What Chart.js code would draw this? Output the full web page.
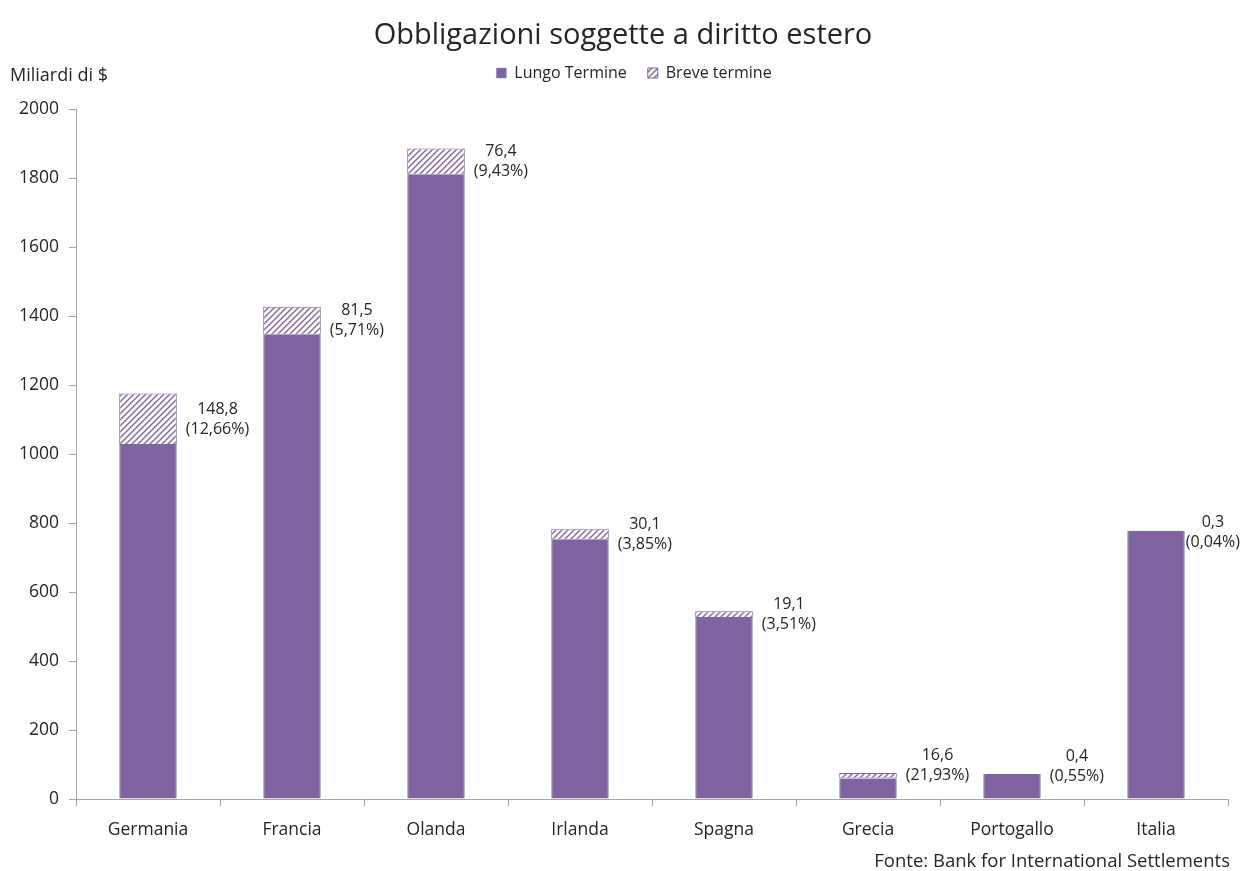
<!DOCTYPE html>
<html lang="it">
<head>
<meta charset="utf-8">
<title>Obbligazioni soggette a diritto estero</title>
<script src="https://cdn.jsdelivr.net/npm/chart.js@4/dist/chart.umd.min.js"></script>
<style>
  html, body { margin: 0; padding: 0; background: #fff; }
  #wrap { width: 1247px; height: 871px; }
</style>
</head>
<body>
<div id="wrap"><canvas id="grafico" width="1247" height="871"></canvas></div>
<script>
// Dati: obbligazioni soggette a diritto estero, miliardi di $
const categorie = ['Germania', 'Francia', 'Olanda', 'Irlanda', 'Spagna', 'Grecia', 'Portogallo', 'Italia'];
const lungoTermine = [1026.6, 1345.8, 1810.0, 751.7, 525.1, 59.1, 72.3, 777.7];
const breveTermine = [148.8, 81.5, 76.4, 30.1, 19.1, 16.6, 0.4, 0.3];
const quotaBreve = [12.66, 5.71, 9.43, 3.85, 3.51, 21.93, 0.55, 0.04];
const asseY = { min: 0, max: 2000, passo: 200 };

const FONT = "'Open Sans', 'DejaVu Sans', sans-serif";
const VIOLA = '#8064A2';
const TESTO = '#262626';

// motivo a righe oblique per il breve termine
function tratteggio() {
  const c = document.createElement('canvas');
  c.width = 6; c.height = 6;
  const g = c.getContext('2d');
  g.fillStyle = '#ffffff';
  g.fillRect(0, 0, 6, 6);
  g.strokeStyle = VIOLA;
  g.lineWidth = 1.4;
  g.beginPath();
  g.moveTo(-1, 7); g.lineTo(7, -1);
  g.moveTo(-1, 1); g.lineTo(1, -1);
  g.moveTo(5, 7); g.lineTo(7, 5);
  g.stroke();
  return g.createPattern(c, 'repeat');
}

const virgola = (v, d) => v.toFixed(d).replace('.', ',');

// etichette accanto alla barra: valore del breve termine e quota %
const spostamenti = { Grecia: [0, -10], Portogallo: [0, -8], Italia: [-8, 2] };
const etichette = {
  id: 'etichette',
  afterDatasetsDraw(chart) {
    const ctx = chart.ctx;
    const y = chart.scales.y;
    const meta = chart.getDatasetMeta(1);
    ctx.save();
    ctx.font = '16px ' + FONT;
    ctx.fillStyle = TESTO;
    ctx.textAlign = 'center';
    ctx.textBaseline = 'middle';
    meta.data.forEach((bar, i) => {
      const r1 = virgola(breveTermine[i], 1);
      const r2 = '(' + virgola(quotaBreve[i], 2) + '%)';
      const w = Math.max(ctx.measureText(r1).width, ctx.measureText(r2).width);
      const d = spostamenti[categorie[i]] || [0, 0];
      const cx = bar.x + bar.width / 2 + 9 + w / 2 + d[0];
      const mid = y.getPixelForValue(lungoTermine[i] + breveTermine[i] / 2);
      const cy = Math.min(mid, y.getPixelForValue(0) - 22) + d[1];
      ctx.fillText(r1, cx, cy - 10);
      ctx.fillText(r2, cx, cy + 10);
    });
    ctx.restore();
  }
};

// titolo, titolo dell'asse y e fonte; legenda spostata verso il centro del grafico
const testiExtra = {
  id: 'testiExtra',
  afterLayout(chart) {
    chart.legend.left += 40;
  },
  afterDraw(chart) {
    const ctx = chart.ctx;
    ctx.save();
    ctx.fillStyle = TESTO;
    ctx.textBaseline = 'middle';
    ctx.textAlign = 'center';
    ctx.font = '29px ' + FONT;
    ctx.fillText('Obbligazioni soggette a diritto estero', 623, 36);
    ctx.font = '18px ' + FONT;
    ctx.textAlign = 'left';
    ctx.fillText('Miliardi di $', 10, 76);
    ctx.font = '18.5px ' + FONT;
    ctx.textAlign = 'right';
    ctx.fillText('Fonte: Bank for International Settlements', 1230, 862);
    ctx.restore();
  }
};

new Chart(document.getElementById('grafico'), {
  type: 'bar',
  data: {
    labels: categorie,
    datasets: [
      {
        label: 'Lungo Termine',
        data: lungoTermine,
        backgroundColor: VIOLA,
        borderColor: '#7C9BD0',
        borderWidth: { left: 1, right: 1, top: 0, bottom: 0 },
        borderSkipped: false
      },
      {
        label: 'Breve termine',
        data: breveTermine,
        backgroundColor: tratteggio(),
        borderColor: VIOLA,
        borderWidth: 1,
        borderSkipped: false
      }
    ]
  },
  options: {
    responsive: false,
    animation: false,
    events: [],
    datasets: { bar: { barPercentage: 0.8, categoryPercentage: 0.5 } },
    layout: { padding: { left: 0, right: 19, top: 44, bottom: 0 } },
    plugins: {
      title: { display: false },
      legend: {
        display: true,
        position: 'top',
        labels: {
          color: TESTO,
          font: { family: FONT, size: 16 },
          boxWidth: 10,
          boxHeight: 10,
          padding: 21
        }
      },
      // spazio vuoto tra legenda e area del grafico
      subtitle: {
        display: true,
        text: '',
        weight: 500,
        font: { size: 1 },
        padding: { top: 0, bottom: 17 }
      },
      tooltip: { enabled: false }
    },
    scales: {
      x: {
        stacked: true,
        border: { display: true, color: '#A6A6A6' },
        grid: { display: true, drawOnChartArea: false, drawTicks: true, tickLength: 7, color: '#A6A6A6', offset: true },
        ticks: { color: TESTO, font: { family: FONT, size: 17.5 }, padding: 14 },
        afterFit(s) { s.height = 72; }
      },
      y: {
        stacked: true,
        min: asseY.min,
        max: asseY.max,
        border: { display: true, color: '#A6A6A6' },
        grid: { display: true, drawOnChartArea: false, drawTicks: true, tickLength: 7, color: '#A6A6A6' },
        ticks: {
          stepSize: asseY.passo,
          color: TESTO,
          font: { family: FONT, size: 17.5 },
          padding: 10,
          callback: v => String(v)
        },
        afterFit(s) { s.width = 76; }
      }
    }
  },
  plugins: [etichette, testiExtra]
});
</script>
</body>
</html>
